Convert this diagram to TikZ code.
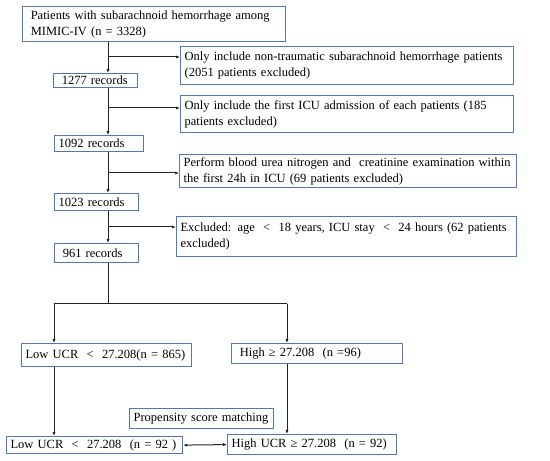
\documentclass[tikz,border=0pt]{standalone}
\usepackage{fontspec}
\setmainfont{Liberation Serif}
\usetikzlibrary{arrows.meta}
\definecolor{boxblue}{RGB}{80,118,192}
\definecolor{linegray}{RGB}{35,35,35}
\begin{document}
\begin{tikzpicture}[x=1pt,y=1pt,font=\fontsize{12.5}{16}\selectfont,
	bx/.style={draw=boxblue,line width=1.2pt,anchor=north west,align=left,inner xsep=4pt,inner ysep=1.5pt},
	arr/.style={draw=linegray,line width=1pt,-{Latex[length=4pt,width=3.2pt]}},
	lin/.style={draw=linegray,line width=1pt}]
	\useasboundingbox (0,0) rectangle (550,461);
	% boxes (top left corner, width from the text width)
	\node[bx,text width=255pt,minimum height=35pt] (pat) at (22,455) {\ Patients with subarachnoid hemorrhage among\\\ MIMIC-IV (n = 3328)};
	\node[bx,text width=76pt,minimum height=14pt] (r1) at (53,388) {\ 1277 records};
	\node[bx,text width=325pt,minimum height=38pt] (e1) at (180,415) {Only include non-traumatic subarachnoid hemorrhage patients\\(2051 patients excluded)};
	\node[bx,text width=325pt,minimum height=37pt] (e2) at (180,366) {Only include the first ICU admission of each patients (185\\patients excluded)};
	\node[bx,text width=81pt,minimum height=16pt] (r2) at (54,326) {1092 records};
	\node[bx,text width=329pt,minimum height=33pt] (e3) at (179,307) {Perform blood urea nitrogen and\ \ creatinine examination within\\the first 24h in ICU (69 patients excluded)};
	\node[bx,text width=76pt,minimum height=17pt] (r3) at (54,268) {1023 records};
	\node[bx,text width=332pt,minimum height=40pt] (e4) at (176,245) {Excluded: age\ \ <\ \ 18 years, ICU stay\ \ <\ \ 24 hours (62 patients\\excluded)};
	\node[bx,text width=76pt,minimum height=19pt] (r4) at (54,218) {\ 961 records};
	\node[bx,text width=162pt,minimum height=23pt] (low) at (21,118) {Low UCR\ \ <\ \ 27.208(n = 865)};
	\node[bx,text width=163pt,minimum height=20pt] (high) at (231,118) {\ High ≥ 27.208\ \ (n =96)};
	\node[bx,text width=136pt,minimum height=20pt] (psm) at (129,53) {Propensity score matching};
	\node[bx,text width=168pt,minimum height=17pt] (low2) at (6,25) {Low UCR\ \ <\ \ 27.208\ \ (n = 92 )};
	\node[bx,text width=161pt,minimum height=20pt] (high2) at (227,27) {High UCR ≥ 27.208\ \ (n = 92)};
	% main line and side branches
	\coordinate (spine) at (108,0);
	\foreach \a/\b in {pat/r1,r1/r2,r2/r3,r3/r4}
	\draw[arr] (\a.south -| spine) -- (\b.north -| spine);
	\coordinate (k1) at (108,404);
	\coordinate (k2) at (108,353);
	\coordinate (k3) at (108,288);
	\coordinate (k4) at (108,234);
	\foreach \k/\e in {k1/e1,k2/e2,k3/e3,k4/e4}
	\draw[arr] (\k) -- (\k -| \e.west);
	% split into the two groups
	\coordinate (sl) at (54,157);
	\coordinate (sr) at (287,157);
	\draw[lin] (r4.south -| spine) -- (sl -| spine);
	\draw[lin] (sl) -- (sr);
	\draw[arr] (sl) -- (sl |- low.north);
	\draw[arr] (sr) -- (sr |- high.north);
	\draw[arr] (sl |- low.south) -- (sl |- low2.north);
	\draw[arr] (sr |- high.south) -- (sr |- high2.north);
	\draw[arr,{Latex[length=4pt,width=3.2pt]}-{Latex[length=4pt,width=3.2pt]}] (low2.east) -- (high2.west);
\end{tikzpicture}
\end{document}
